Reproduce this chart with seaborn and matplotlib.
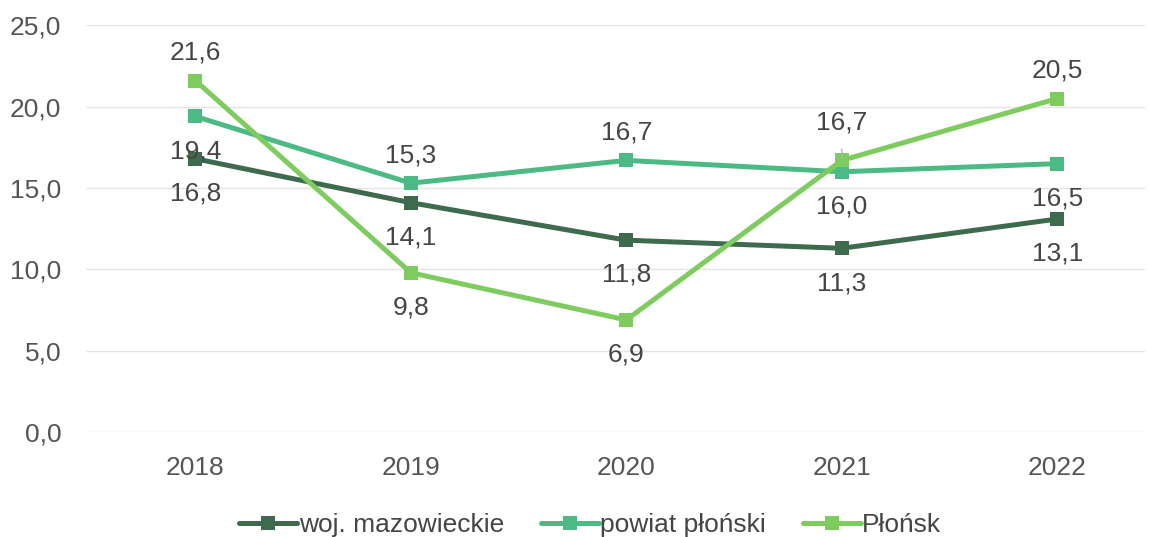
import matplotlib
matplotlib.use("Agg")
import matplotlib.pyplot as plt
import seaborn as sns
import pandas as pd

years = ["2018", "2019", "2020", "2021", "2022"]
woj = [16.8, 14.1, 11.8, 11.3, 13.1]
powiat = [19.4, 15.3, 16.7, 16.0, 16.5]
plonsk = [21.6, 9.8, 6.9, 16.7, 20.5]
series_names = ["woj. mazowieckie", "powiat płoński", "Płońsk"]
yticks = [0, 5, 10, 15, 20, 25]

colors = ["#3e6b4e", "#4cba85", "#7ecb5f"]
# label placement: +1 above, -1 below
placement = {
    "woj. mazowieckie": [-1, -1, -1, -1, -1],
    "powiat płoński": [-1, 1, 1, -1, -1],
    "Płońsk": [1, -1, -1, 1, 1],
}

sns.set_theme(style="white")
plt.rcParams["font.family"] = ["Liberation Sans", "DejaVu Sans"]

rows = []
for name, vals in zip(series_names, [woj, powiat, plonsk]):
    for i, (y, v) in enumerate(zip(years, vals)):
        rows.append({"year": y, "x": i, "value": v, "series": name})
df = pd.DataFrame(rows)

fig, ax = plt.subplots(figsize=(11.51, 5.37), dpi=100)
fig.subplots_adjust(left=0.075, right=0.995, top=0.953, bottom=0.195)

sns.lineplot(data=df, x="x", y="value", hue="series", hue_order=series_names,
             palette=colors, marker="s", markersize=10, markeredgewidth=0,
             linewidth=3.6, dashes=False, ax=ax, legend=True)

txt_color = "#454545"
for name, vals in zip(series_names, [woj, powiat, plonsk]):
    for i, v in enumerate(vals):
        p = placement[name][i]
        off = 20 if p > 0 else -25
        kw = {}
        if name == "Płońsk" and i == 3:
            off = 27
            kw = dict(arrowprops=dict(arrowstyle="-", color="#b0b0b0", lw=1,
                                      shrinkA=8, shrinkB=2))
        ax.annotate(f"{v:.1f}".replace(".", ","), (i, v),
                    xytext=(0, off), textcoords="offset points",
                    ha="center", va="center", fontsize=19, color=txt_color,
                    **kw)

ax.set_xlim(-0.506, 4.408)
ax.set_ylim(0, 25)
ax.set_xticks(range(len(years)))
ax.set_xticklabels(years)
ax.set_yticks(yticks)
ax.set_yticklabels([f"{t:.1f}".replace(".", ",") for t in yticks])
ax.tick_params(axis="both", labelsize=19, colors="#555555", length=0)
ax.tick_params(axis="x", pad=17)
ax.tick_params(axis="y", pad=18)
ax.set_xlabel("")
ax.set_ylabel("")
ax.yaxis.grid(True, color="#e4e4e4", linewidth=1)
ax.set_axisbelow(True)
for s in ax.spines.values():
    s.set_visible(False)

handles, labels = ax.get_legend_handles_labels()
ax.legend(handles, labels, loc="upper center", bbox_to_anchor=(0.476, -0.14),
          ncol=3, frameon=False, fontsize=19, handlelength=2.2,
          handletextpad=0.05, columnspacing=1.4, labelcolor=txt_color)

fig.savefig("out.png", dpi=100)
